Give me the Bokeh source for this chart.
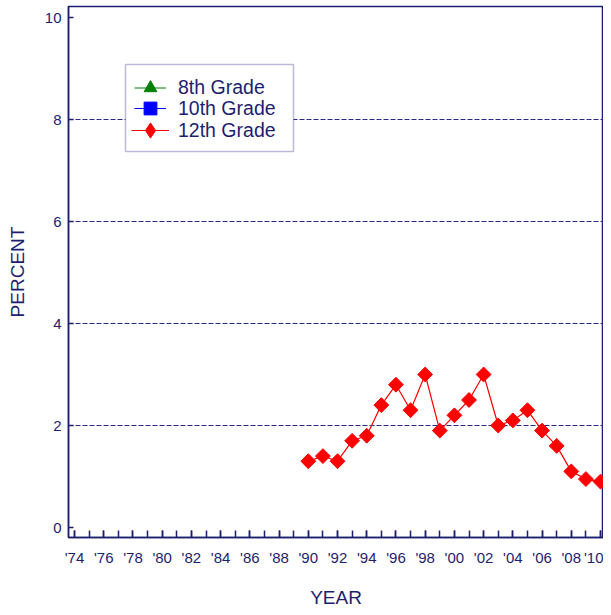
import math
from bokeh.plotting import figure
from bokeh.models import (FixedTicker, Legend, LegendItem, Range1d,
                          ColumnDataSource, BoxAnnotation)
from bokeh.embed import file_html
from bokeh.resources import INLINE

# ---------------- data ----------------
all_years = list(range(1974, 2011))
label_years = list(range(1974, 2011, 2))
x_tick_labels = ["'74", "'76", "'78", "'80", "'82", "'84", "'86", "'88", "'90",
                 "'92", "'94", "'96", "'98", "'00", "'02", "'04", "'06", "'08", "'10"]
y_ticks = [0, 2, 4, 6, 8, 10]
grid_levels = [2, 4, 6, 8]

grade_names = ["8th Grade", "10th Grade", "12th Grade"]
years_8th = []
values_8th = []
years_10th = []
values_10th = []
years_12th = list(range(1990, 2011))
values_12th = [1.3, 1.4, 1.3, 1.7, 1.8, 2.4, 2.8, 2.3, 3.0, 1.9, 2.2,
               2.5, 3.0, 2.0, 2.1, 2.3, 1.9, 1.6, 1.1, 0.95, 0.9]

# ---------------- styling ----------------
NAVY = "#1e1e6e"
GRID = "#28288c"
FONT = "Liberation Sans"

p = figure(width=603, height=611, output_backend="svg", toolbar_location=None,
           x_range=Range1d(1973.589, 2010.205), y_range=Range1d(-0.196, 10.216),
           min_border_left=68, min_border_right=0, min_border_top=6,
           min_border_bottom=74)

p.background_fill_color = "white"
p.border_fill_color = "white"
p.outline_line_color = NAVY
p.outline_line_width = 1.5

# x axis
p.xaxis.ticker = FixedTicker(ticks=label_years, minor_ticks=all_years)
p.xaxis.major_label_overrides = {y: l for y, l in zip(label_years, x_tick_labels)}
p.xaxis.major_tick_in = 7
p.xaxis.major_tick_out = 0
p.xaxis.minor_tick_in = 7
p.xaxis.minor_tick_out = 0
p.xaxis.major_label_standoff = 11
p.xaxis.axis_label = "YEAR"
p.xaxis.axis_label_standoff = 18

# y axis
p.yaxis.ticker = FixedTicker(ticks=y_ticks)
p.yaxis.major_tick_in = 5
p.yaxis.major_tick_out = 0
p.yaxis.minor_tick_line_color = None
p.yaxis.major_label_standoff = 7
p.yaxis.axis_label = "PERCENT"
p.yaxis.axis_label_standoff = 14

for ax in (p.xaxis, p.yaxis):
    ax.axis_line_color = NAVY
    ax.axis_line_width = 1.5
    ax.major_tick_line_color = NAVY
    ax.major_tick_line_width = 1.5
    ax.major_label_text_font = FONT
    ax.major_label_text_font_size = "15px"
    ax.major_label_text_color = NAVY
    ax.axis_label_text_font = FONT
    ax.axis_label_text_font_size = "19px"
    ax.axis_label_text_font_style = "normal"
    ax.axis_label_text_color = NAVY
p.xaxis.minor_tick_line_color = NAVY
p.xaxis.minor_tick_line_width = 1.5

p.xgrid.visible = False
p.ygrid.ticker = FixedTicker(ticks=grid_levels)
p.ygrid.grid_line_color = GRID
p.ygrid.grid_line_width = 1.2
p.ygrid.grid_line_dash = "5 2"

# ---------------- series ----------------
p.line(years_8th, values_8th, line_color="green", line_width=1)
p.scatter(years_8th, values_8th, marker="triangle", size=14,
          fill_color="green", line_color="green")
p.line(years_10th, values_10th, line_color="blue", line_width=1)
p.scatter(years_10th, values_10th, marker="square", size=12,
          fill_color="blue", line_color="blue")
p.line(years_12th, values_12th, line_color="red", line_width=1.2)
p.scatter(years_12th, values_12th, marker="square", size=10.5,
          angle=math.pi / 4, fill_color="red", line_color="red")

# legend swatch proxies (no data points; only used to draw legend swatches)
proxy = ColumnDataSource(dict(x=[float("nan")], y=[float("nan")]))
swatch_colors = ["green", "blue", "red"]
swatch_markers = ["triangle", "square", "diamond"]
# per-row swatch geometry: glyph width/height, left and bottom offsets from frame
row_glyph_w = [32, 32, 38]
row_glyph_h = [35, 32, 38]
row_left = [66, 66, 63]
row_bottom = [432, 413, 388]

# legend frame
p.add_layout(BoxAnnotation(left=57, right=225, bottom=386, top=473,
                           left_units="screen", right_units="screen",
                           bottom_units="screen", top_units="screen",
                           fill_color="white", fill_alpha=1,
                           line_color=NAVY, line_width=1.5, level="overlay"))

for name, col, mk, gw, gh, xl, yb in zip(grade_names, swatch_colors, swatch_markers,
                                         row_glyph_w, row_glyph_h, row_left, row_bottom):
    rl = p.line("x", "y", source=proxy, line_color=col, line_width=1)
    rm = p.scatter("x", "y", source=proxy, marker=mk, fill_color=col, line_color=col)
    lg = Legend(items=[LegendItem(label=name, renderers=[rl, rm])],
                location=(xl, yb), margin=0, padding=0, spacing=0,
                label_height=22, glyph_height=gh, glyph_width=gw,
                label_standoff=178 - 68 - xl - gw, label_text_font=FONT,
                label_text_font_size="19.5px", label_text_color=NAVY,
                border_line_color=None, background_fill_alpha=0)
    p.add_layout(lg)

open("out.html", "w").write(file_html(p, INLINE))
